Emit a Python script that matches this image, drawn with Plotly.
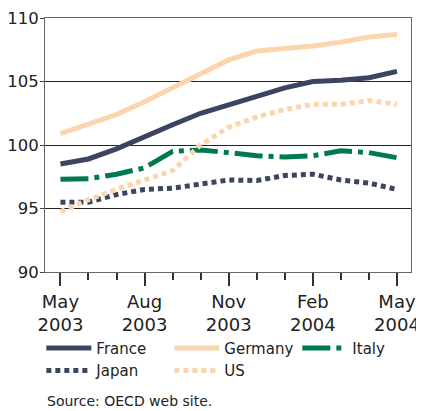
import plotly.graph_objects as go

# Monthly index values, May 2003 - May 2004
months = ["May 2003", "Jun 2003", "Jul 2003", "Aug 2003", "Sep 2003", "Oct 2003", "Nov 2003",
          "Dec 2003", "Jan 2004", "Feb 2004", "Mar 2004", "Apr 2004", "May 2004"]
france = [98.5, 98.9, 99.7, 100.7, 101.6, 102.5, 103.2, 103.9, 104.5, 105.0, 105.1, 105.3, 105.8]
germany = [100.9, 101.6, 102.4, 103.4, 104.5, 105.7, 106.7, 107.4, 107.6, 107.8, 108.1, 108.5, 108.7]
italy = [97.3, 97.35, 97.7, 98.2, 99.5, 99.6, 99.4, 99.15, 99.05, 99.15, 99.55, 99.4, 99.0]
japan = [95.5, 95.5, 96.1, 96.5, 96.6, 96.9, 97.25, 97.2, 97.6, 97.7, 97.25, 97.0, 96.5]
us = [94.75, 95.7, 96.5, 97.2, 98.0, 100.0, 101.4, 102.2, 102.8, 103.2, 103.2, 103.5, 103.2]

tick_idx = [0, 3, 6, 9, 12]
tick_text = ["May<br>2003", "Aug<br>2003", "Nov<br>2003", "Feb<br>2004", "May<br>2004"]

x = list(range(len(months)))
navy = "#3b4561"
peach = "#fcd4ad"
green = "#007a4a"

fig = go.Figure()
fig.add_trace(go.Scatter(x=x, y=france, name="France", mode="lines",
                         line=dict(color=navy, width=5)))
fig.add_trace(go.Scatter(x=x, y=germany, name="Germany", mode="lines",
                         line=dict(color=peach, width=5)))
fig.add_trace(go.Scatter(x=x, y=italy, name="Italy", mode="lines",
                         line=dict(color=green, width=5, dash="28px,6px,5px,6px")))
fig.add_trace(go.Scatter(x=x, y=japan, name="Japan", mode="lines",
                         line=dict(color=navy, width=5, dash="5px,4px")))
fig.add_trace(go.Scatter(x=x, y=us, name="US", mode="lines",
                         line=dict(color=peach, width=5, dash="5px,4px")))

# page body has an 8px margin, so the figure is sized to fit the window
fig.update_layout(
    width=416, height=403,
    margin=dict(l=37, r=13, t=10, b=139, autoexpand=False),
    paper_bgcolor="white", plot_bgcolor="white",
    font=dict(family="DejaVu Sans, Verdana, sans-serif", color="#222222", size=15),
    showlegend=True,
    legend=dict(orientation="h", x=-0.01, y=-0.235, xanchor="left", yanchor="top",
                entrywidth=68, font=dict(size=15), tracegroupgap=0,
                itemwidth=45),
    annotations=[dict(text="Source: OECD web site.", x=0, y=-0.47, xref="paper", yref="paper",
                      xanchor="left", yanchor="top", showarrow=False,
                      font=dict(size=14, color="#222222"))],
)
fig.update_xaxes(range=[-0.55, 12.5], tickvals=tick_idx, ticktext=tick_text,
                 ticks="outside", ticklen=13, tickcolor="#333333", tickwidth=1.5,
                 tickfont=dict(size=18), ticklabeloverflow="allow",
                 minor=dict(dtick=1, tick0=0, ticks="outside", ticklen=7, tickcolor="#333333", tickwidth=1.5),
                 showgrid=False, showline=True, linecolor="#666666", mirror=True, zeroline=False)
fig.update_yaxes(range=[90, 110], dtick=5, showgrid=True, gridcolor="#222222", gridwidth=1,
                 tickfont=dict(size=16.5), ticks="outside", ticklen=4, tickcolor="#444444",
                 ticklabelstandoff=-2, ticklabeloverflow="allow", showline=True, linecolor="#666666",
                 mirror=True, zeroline=False)

fig.write_html("out.html")
